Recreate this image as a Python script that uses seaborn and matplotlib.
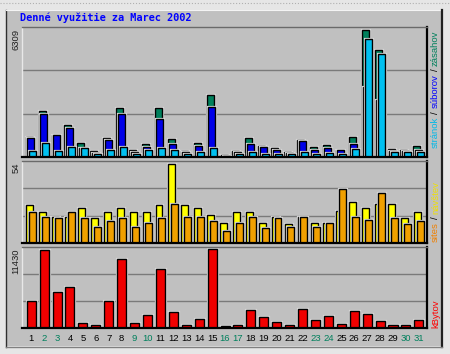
import numpy as np
import pandas as pd
import matplotlib
matplotlib.use("Agg")
import matplotlib.pyplot as plt
import matplotlib.transforms as mtransforms
import matplotlib.patheffects as pe
from matplotlib import font_manager as fm
from matplotlib.patches import Rectangle
from matplotlib.lines import Line2D
import seaborn as sns

# ---------------- data ----------------
days = list(range(1, 32))
hits = [996, 2291, 1112, 1610, 681, 282, 963, 2424, 365, 631, 2424, 880, 282, 681, 3071, 116,
        282, 946, 531, 432, 232, 830, 481, 581, 365, 979, 6309, 5313, 415, 365, 531]
files = [963, 2158, 1112, 1428, 432, 199, 830, 2158, 232, 481, 1876, 664, 249, 531, 2474, 83,
         232, 631, 481, 332, 199, 797, 332, 432, 332, 631, 3486, 2822, 282, 282, 332]
pages = [282, 681, 282, 481, 432, 166, 365, 515, 166, 332, 432, 365, 133, 232, 432, 66,
         133, 232, 166, 133, 133, 232, 133, 216, 133, 382, 5860, 5147, 232, 232, 232]
visits = [26, 21, 18, 18, 24, 17, 21, 24, 21, 21, 26, 54, 26, 24, 19, 14,
          21, 21, 14, 18, 13, 18, 14, 14, 22, 28, 24, 27, 27, 17, 21]
sites = [21, 18, 17, 21, 17, 11, 15, 17, 11, 14, 17, 27, 18, 18, 15, 8,
         14, 18, 10, 17, 11, 18, 11, 14, 37, 18, 16, 34, 17, 13, 15]
kbytes = [3842, 11287, 5235, 5908, 768, 480, 3890, 9942, 768, 1921, 8501, 2353, 480, 1345, 11430, 288,
          480, 2642, 1633, 913, 480, 2786, 1201, 1777, 624, 2498, 2065, 1057, 480, 480, 1201]
weekend_days = [2, 3, 9, 10, 16, 17, 23, 24, 30, 31]

title = "Denné využitie za Marec 2002"
top_labels = [("stránok", "#00B8E8"), ("/", "#000000"), ("súborov", "#0000FF"), ("/", "#000000"), ("zásahov", "#00805C")]
mid_labels = [("sites", "#F08000"), ("/", "#000000"), ("návštev", "#F0E000")]
bot_labels = [("kBytov", "#FF0000")]

C_HITS, C_FILES, C_PAGES = "#00805C", "#0000E8", "#00C0F0"
C_VISITS, C_SITES, C_KB = "#FFFF00", "#F0A000", "#F00000"
BG = "#C0C0C0"

df = pd.DataFrame({"day": days, "hits": hits, "files": files, "pages": pages,
                   "visits": visits, "sites": sites, "kbytes": kbytes})

# ---------------- fonts ----------------
_names = {f.name for f in fm.fontManager.ttflist}
if "Liberation Sans Narrow" in _names:
    LFAM, LFS = "Liberation Sans Narrow", 7.9
elif "Liberation Sans" in _names:
    LFAM, LFS = "Liberation Sans", 6.8
else:
    LFAM, LFS = "DejaVu Sans", 6.3

# ---------------- figure ----------------
W, H = 450, 354
fig = plt.figure(figsize=(W / 100, H / 100), dpi=100)
fig.patch.set_facecolor("#E6E6E6")

def rect(x0, y0, x1, y1):
    return [x0 / W, 1 - y1 / H, (x1 - x0) / W, (y1 - y0) / H]

def fline(x0, y0, x1, y1, color, lw=1.0, ls="-"):
    fig.add_artist(Line2D([x0 / W, x1 / W], [1 - y0 / H, 1 - y1 / H], transform=fig.transFigure,
                          color=color, lw=lw, ls=ls, zorder=0.5))

# gray panel with 3D frame
fig.add_artist(Rectangle((6 / W, 1 - 346 / H), (441 - 6) / W, (346 - 10) / H, transform=fig.transFigure,
                         facecolor=BG, edgecolor="none", zorder=0))
fline(0, 3, W, 3, "#B0B0B0", 0.8, ":")
fline(5.5, 10, 5.5, 347, "#303030", 1.0)
fline(6, 10, 441, 10, "#F4F4F4", 0.8)
fline(441.5, 10, 441.5, 347, "#202020", 1.6)
fline(6, 346.5, 442, 346.5, "#808080", 1.0)

fig.text(20 / W, 1 - 17.5 / H, title, color="#0000FF", fontsize=7.4, fontweight="bold",
         family="DejaVu Sans Mono", ha="left", va="center")

XL = (0.288, 31.63)
ax1 = fig.add_axes(rect(22, 27, 427, 157))
ax2 = fig.add_axes(rect(22, 161, 427, 243))
ax3 = fig.add_axes(rect(22, 247, 427, 328))

BW = 0.54
common = dict(native_scale=True, orient="x", saturation=1, edgecolor="black", linewidth=1.0,
              errorbar=None)

sns.barplot(x=df["day"] - 0.155, y=df["hits"], width=BW, color=C_HITS, ax=ax1, **common)
sns.barplot(x=df["day"] - 0.04, y=df["files"], width=BW, color=C_FILES, ax=ax1, **common)
sns.barplot(x=df["day"] + 0.115, y=df["pages"], width=BW, color=C_PAGES, ax=ax1, **common)

sns.barplot(x=df["day"] - 0.11, y=df["visits"], width=BW, color=C_VISITS, ax=ax2, **common)
sns.barplot(x=df["day"] + 0.10, y=df["sites"], width=BW, color=C_SITES, ax=ax2, **common)

sns.barplot(x=df["day"], y=df["kbytes"], width=0.70, color=C_KB, ax=ax3, **common)

halo = [pe.Stroke(linewidth=2.3, foreground="#D6D6D6"), pe.Normal()]
maxes = [max(hits), max(visits), max(kbytes)]
fracs = [130 / 126.7, 82 / 78.7, 81 / 79.3]
for ax, m, f in zip([ax1, ax2, ax3], maxes, fracs):
    for p in ax.patches:
        p.set_path_effects(halo)
    top = m * f
    ax.set_facecolor(BG)
    ax.set_xlim(*XL)
    ax.set_ylim(0, top)
    for g in (top / 3, 2 * top / 3):
        ax.axhline(g, color="#7A7A7A", lw=1.0, zorder=0.5)
    ax.set_xticks([])
    ax.set_yticks([])
    ax.set_xlabel("")
    ax.set_ylabel("")
    ax.spines["top"].set_color("#6A6A6A")
    ax.spines["top"].set_linewidth(1.0)
    ax.spines["left"].set_color("#E8E8E8")
    ax.spines["left"].set_linewidth(1.0)
    ax.spines["bottom"].set_color("black")
    ax.spines["bottom"].set_linewidth(1.6)
    ax.spines["right"].set_color("black")
    ax.spines["right"].set_linewidth(1.6)
    ax.text(-6.0 / 405, 0.985, str(m), transform=ax.transAxes, rotation=90,
            ha="center", va="top", fontsize=LFS, family=LFAM, color="#202020")

# day labels
tr = mtransforms.blended_transform_factory(ax3.transData, fig.transFigure)
for d in days:
    ax3.text(d, 1 - 338.5 / H, str(d), transform=tr, ha="center", va="center", fontsize=LFS,
             family=LFAM, color="#00805C" if d in weekend_days else "#000000", clip_on=False)

# right side rotated labels, stacked bottom to top
fig.canvas.draw()
renderer = fig.canvas.get_renderer()

def stacked(parts, x_px, y_bottom_px, gap=3):
    y = y_bottom_px
    for s, c in parts:
        t = fig.text(x_px / W, 1 - y / H, s, rotation=90, color=c, ha="center", va="bottom",
                     fontsize=LFS, family=LFAM)
        bb = t.get_window_extent(renderer)
        y -= bb.height + gap

stacked(top_labels, 435.5, 148)
stacked(mid_labels, 435.5, 242)
stacked(bot_labels, 435.5, 328)

fig.savefig("out.png", dpi=100, facecolor=fig.get_facecolor())
